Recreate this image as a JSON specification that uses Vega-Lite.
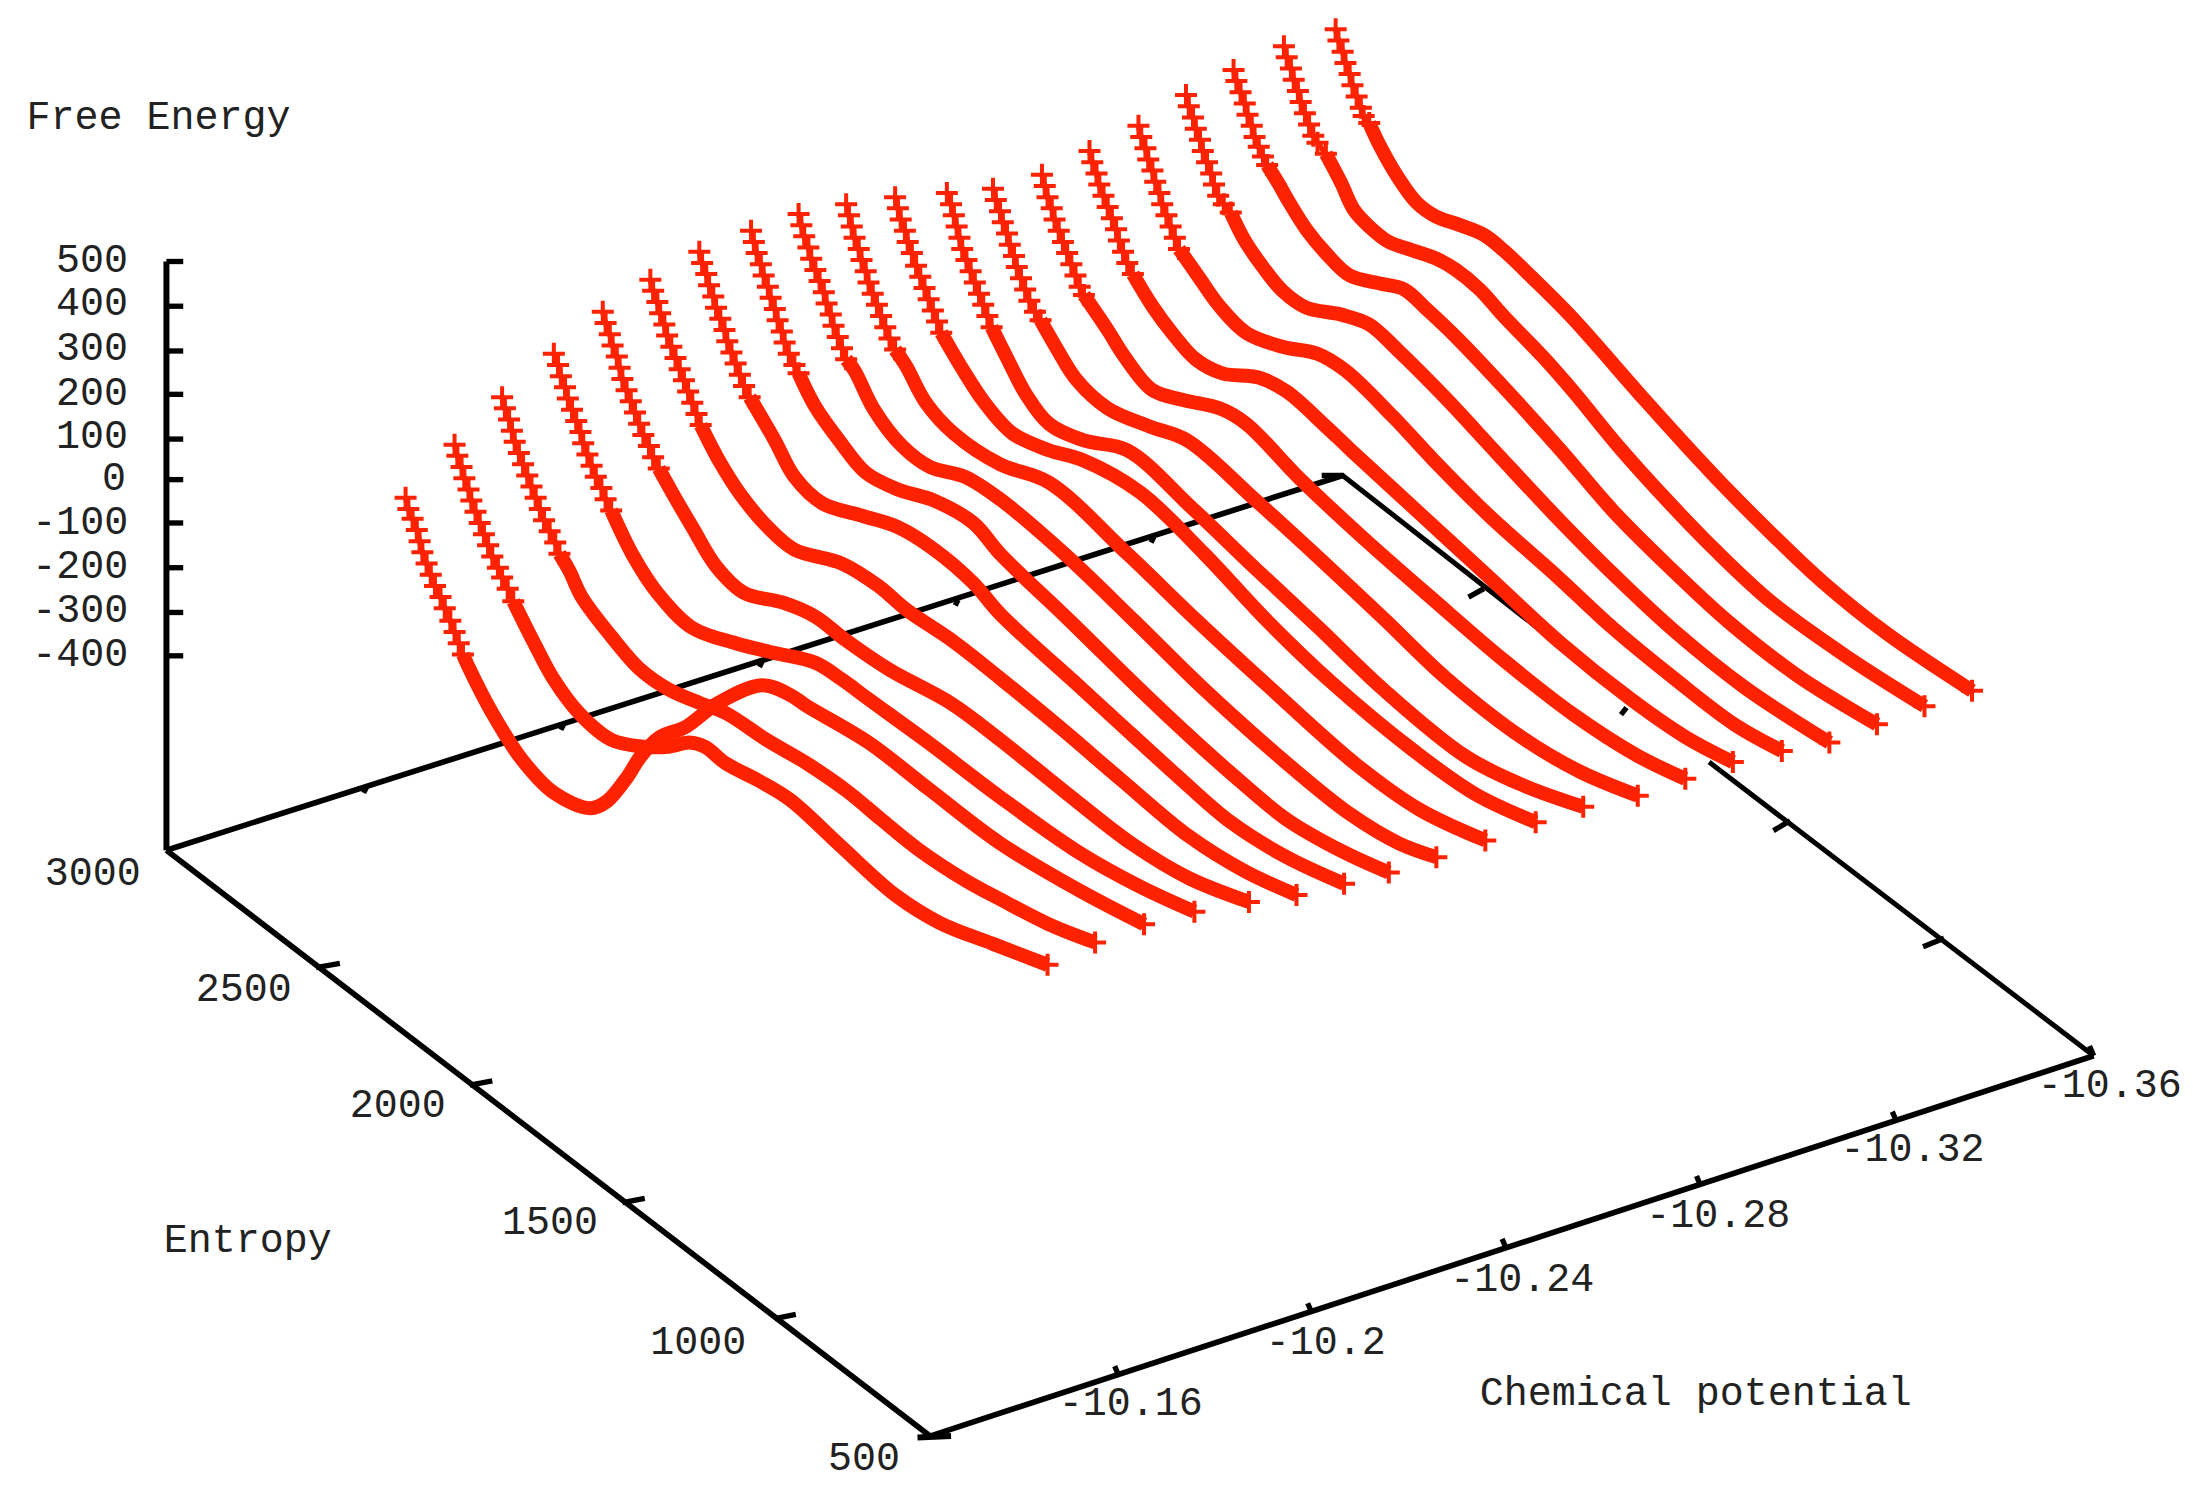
{
  "$schema": "https://vega.github.io/schema/vega-lite/v6.json",
  "width": 2193,
  "height": 1506,
  "autosize": {"type": "fit", "contains": "padding"},
  "padding": 0,
  "background": "white",
  "config": {"view": {"stroke": null}},
  "datasets": {
    "frame": [
      {"s":"z","w":"heavy","x":119,"y":187},{"s":"z","w":"heavy","x":119,"y":608},
      {"s":"z1","w":"tick","x":119,"y":187},{"s":"z1","w":"tick","x":131,"y":187},
      {"s":"z2","w":"tick","x":119,"y":219},{"s":"z2","w":"tick","x":131,"y":219},
      {"s":"z3","w":"tick","x":119,"y":251},{"s":"z3","w":"tick","x":131,"y":251},
      {"s":"z4","w":"tick","x":119,"y":282},{"s":"z4","w":"tick","x":131,"y":282},
      {"s":"z5","w":"tick","x":119,"y":314},{"s":"z5","w":"tick","x":131,"y":314},
      {"s":"z6","w":"tick","x":119,"y":343},{"s":"z6","w":"tick","x":131,"y":343},
      {"s":"z7","w":"tick","x":119,"y":374},{"s":"z7","w":"tick","x":131,"y":374},
      {"s":"z8","w":"tick","x":119,"y":406},{"s":"z8","w":"tick","x":131,"y":406},
      {"s":"z9","w":"tick","x":119,"y":438},{"s":"z9","w":"tick","x":131,"y":438},
      {"s":"z10","w":"tick","x":119,"y":469},{"s":"z10","w":"tick","x":131,"y":469},
      {"s":"back","w":"base","x":119,"y":608},{"s":"back","w":"base","x":960,"y":340},
      {"s":"left","w":"base","x":119,"y":608},{"s":"left","w":"base","x":665,"y":1027},
      {"s":"front","w":"base","x":665,"y":1027},{"s":"front","w":"base","x":1497,"y":755},
      {"s":"right1","w":"thin","x":960,"y":340},{"s":"right1","w":"thin","x":1103,"y":452},
      {"s":"right2","w":"thin","x":1222,"y":545},{"s":"right2","w":"thin","x":1497,"y":755},
      {"s":"b0","w":"tick","x":945,"y":340},{"s":"b0","w":"tick","x":961,"y":340},
      {"s":"b1","w":"tick","x":262,"y":563},{"s":"b1","w":"tick","x":260,"y":567},
      {"s":"b2","w":"tick","x":403,"y":518},{"s":"b2","w":"tick","x":401,"y":522},
      {"s":"b3","w":"tick","x":545,"y":473},{"s":"b3","w":"tick","x":543,"y":477},
      {"s":"b4","w":"tick","x":685,"y":429},{"s":"b4","w":"tick","x":683,"y":433},
      {"s":"b5","w":"tick","x":825,"y":384},{"s":"b5","w":"tick","x":823,"y":388},
      {"s":"l1","w":"tick","x":226,"y":692},{"s":"l1","w":"tick","x":243,"y":689},
      {"s":"l2","w":"tick","x":336,"y":776},{"s":"l2","w":"tick","x":352,"y":773},
      {"s":"l3","w":"tick","x":445,"y":860},{"s":"l3","w":"tick","x":461,"y":857},
      {"s":"l4","w":"tick","x":554,"y":943},{"s":"l4","w":"tick","x":569,"y":940},
      {"s":"f0","w":"heavy","x":656,"y":1028},{"s":"f0","w":"heavy","x":680,"y":1027},
      {"s":"f1","w":"tick","x":800,"y":984},{"s":"f1","w":"tick","x":797,"y":977},
      {"s":"f2","w":"tick","x":938,"y":939},{"s":"f2","w":"tick","x":935,"y":932},
      {"s":"f3","w":"tick","x":1077,"y":893},{"s":"f3","w":"tick","x":1074,"y":886},
      {"s":"f4","w":"tick","x":1216,"y":848},{"s":"f4","w":"tick","x":1213,"y":841},
      {"s":"f5","w":"tick","x":1356,"y":802},{"s":"f5","w":"tick","x":1353,"y":795},
      {"s":"f6","w":"tick","x":1497,"y":755},{"s":"f6","w":"tick","x":1494,"y":748},
      {"s":"r1","w":"tick","x":1061,"y":421},{"s":"r1","w":"tick","x":1050,"y":427},
      {"s":"r2","w":"tick","x":1163,"y":506},{"s":"r2","w":"tick","x":1159,"y":511},
      {"s":"r3","w":"tick","x":1280,"y":587},{"s":"r3","w":"tick","x":1268,"y":594},
      {"s":"r4","w":"tick","x":1390,"y":671},{"s":"r4","w":"tick","x":1375,"y":677}
    ],
    "labels": [
      {"t":"Free Energy","x":19,"y":84},
      {"t":"500","x":40,"y":186},{"t":"400","x":40,"y":217},{"t":"300","x":40,"y":249},
      {"t":"200","x":40,"y":281},{"t":"100","x":40,"y":312},{"t":"0","x":73,"y":342},
      {"t":"-100","x":23,"y":373},{"t":"-200","x":23,"y":405},{"t":"-300","x":23,"y":436},{"t":"-400","x":23,"y":468},
      {"t":"3000","x":32,"y":624},{"t":"2500","x":140,"y":707},{"t":"2000","x":250,"y":790},
      {"t":"1500","x":359,"y":874},{"t":"1000","x":465,"y":960},{"t":"500","x":592,"y":1043},
      {"t":"Entropy","x":117,"y":887},
      {"t":"-10.16","x":757,"y":1003},{"t":"-10.2","x":905,"y":960},{"t":"-10.24","x":1037,"y":915},
      {"t":"-10.28","x":1177,"y":869},{"t":"-10.32","x":1316,"y":822},{"t":"-10.36","x":1457,"y":776},
      {"t":"Chemical potential","x":1058,"y":996}
    ],
    "upper": [
      {"c":1,"x":290,"y":356},{"c":1,"x":292,"y":364},{"c":1,"x":295,"y":371},{"c":1,"x":298,"y":379},{"c":1,"x":300,"y":387},{"c":1,"x":302,"y":395},{"c":1,"x":305,"y":403},{"c":1,"x":308,"y":411},{"c":1,"x":311,"y":419},{"c":1,"x":315,"y":427},{"c":1,"x":318,"y":435},{"c":1,"x":322,"y":444},{"c":1,"x":325,"y":452},{"c":1,"x":328,"y":460},{"c":1,"x":331,"y":468},
      {"c":2,"x":325,"y":318},{"c":2,"x":327,"y":326},{"c":2,"x":330,"y":334},{"c":2,"x":332,"y":342},{"c":2,"x":335,"y":350},{"c":2,"x":337,"y":358},{"c":2,"x":340,"y":366},{"c":2,"x":343,"y":374},{"c":2,"x":346,"y":382},{"c":2,"x":349,"y":390},{"c":2,"x":352,"y":398},{"c":2,"x":356,"y":406},{"c":2,"x":359,"y":413},{"c":2,"x":363,"y":421},{"c":2,"x":367,"y":430},
      {"c":3,"x":359,"y":284},{"c":3,"x":361,"y":292},{"c":3,"x":364,"y":300},{"c":3,"x":366,"y":308},{"c":3,"x":368,"y":316},{"c":3,"x":371,"y":324},{"c":3,"x":374,"y":332},{"c":3,"x":377,"y":340},{"c":3,"x":380,"y":348},{"c":3,"x":383,"y":356},{"c":3,"x":386,"y":364},{"c":3,"x":389,"y":372},{"c":3,"x":393,"y":380},{"c":3,"x":397,"y":388},{"c":3,"x":400,"y":396},
      {"c":4,"x":396,"y":253},{"c":4,"x":399,"y":261},{"c":4,"x":401,"y":269},{"c":4,"x":404,"y":277},{"c":4,"x":406,"y":285},{"c":4,"x":409,"y":293},{"c":4,"x":412,"y":301},{"c":4,"x":415,"y":309},{"c":4,"x":417,"y":317},{"c":4,"x":420,"y":325},{"c":4,"x":423,"y":333},{"c":4,"x":426,"y":341},{"c":4,"x":430,"y":349},{"c":4,"x":433,"y":357},{"c":4,"x":437,"y":365},
      {"c":5,"x":431,"y":223},{"c":5,"x":433,"y":231},{"c":5,"x":436,"y":239},{"c":5,"x":438,"y":247},{"c":5,"x":441,"y":255},{"c":5,"x":443,"y":263},{"c":5,"x":445,"y":271},{"c":5,"x":448,"y":279},{"c":5,"x":451,"y":287},{"c":5,"x":454,"y":295},{"c":5,"x":457,"y":303},{"c":5,"x":460,"y":311},{"c":5,"x":464,"y":319},{"c":5,"x":467,"y":327},{"c":5,"x":471,"y":335},
      {"c":6,"x":465,"y":200},{"c":6,"x":467,"y":208},{"c":6,"x":470,"y":216},{"c":6,"x":472,"y":224},{"c":6,"x":475,"y":232},{"c":6,"x":477,"y":240},{"c":6,"x":480,"y":248},{"c":6,"x":483,"y":256},{"c":6,"x":486,"y":264},{"c":6,"x":489,"y":272},{"c":6,"x":492,"y":280},{"c":6,"x":495,"y":288},{"c":6,"x":498,"y":296},{"c":6,"x":501,"y":304},
      {"c":7,"x":500,"y":180},{"c":7,"x":502,"y":188},{"c":7,"x":505,"y":196},{"c":7,"x":507,"y":204},{"c":7,"x":510,"y":212},{"c":7,"x":512,"y":220},{"c":7,"x":515,"y":228},{"c":7,"x":518,"y":236},{"c":7,"x":520,"y":244},{"c":7,"x":523,"y":252},{"c":7,"x":526,"y":260},{"c":7,"x":529,"y":268},{"c":7,"x":532,"y":276},{"c":7,"x":536,"y":284},
      {"c":8,"x":537,"y":165},{"c":8,"x":539,"y":173},{"c":8,"x":541,"y":181},{"c":8,"x":544,"y":189},{"c":8,"x":546,"y":197},{"c":8,"x":549,"y":205},{"c":8,"x":551,"y":213},{"c":8,"x":554,"y":221},{"c":8,"x":556,"y":229},{"c":8,"x":559,"y":237},{"c":8,"x":561,"y":245},{"c":8,"x":564,"y":253},{"c":8,"x":568,"y":261},{"c":8,"x":571,"y":267},
      {"c":9,"x":571,"y":153},{"c":9,"x":573,"y":161},{"c":9,"x":575,"y":169},{"c":9,"x":578,"y":177},{"c":9,"x":580,"y":185},{"c":9,"x":583,"y":193},{"c":9,"x":586,"y":201},{"c":9,"x":589,"y":209},{"c":9,"x":591,"y":217},{"c":9,"x":594,"y":225},{"c":9,"x":596,"y":233},{"c":9,"x":599,"y":241},{"c":9,"x":602,"y":249},{"c":9,"x":605,"y":257},
      {"c":10,"x":605,"y":146},{"c":10,"x":607,"y":154},{"c":10,"x":609,"y":162},{"c":10,"x":611,"y":170},{"c":10,"x":614,"y":178},{"c":10,"x":616,"y":186},{"c":10,"x":619,"y":194},{"c":10,"x":621,"y":202},{"c":10,"x":624,"y":210},{"c":10,"x":627,"y":218},{"c":10,"x":630,"y":226},{"c":10,"x":633,"y":234},{"c":10,"x":636,"y":242},{"c":10,"x":640,"y":250},
      {"c":11,"x":640,"y":141},{"c":11,"x":642,"y":149},{"c":11,"x":644,"y":157},{"c":11,"x":647,"y":165},{"c":11,"x":649,"y":173},{"c":11,"x":652,"y":181},{"c":11,"x":655,"y":190},{"c":11,"x":658,"y":198},{"c":11,"x":661,"y":206},{"c":11,"x":664,"y":214},{"c":11,"x":667,"y":222},{"c":11,"x":670,"y":230},{"c":11,"x":673,"y":238},
      {"c":12,"x":677,"y":138},{"c":12,"x":680,"y":146},{"c":12,"x":682,"y":154},{"c":12,"x":684,"y":162},{"c":12,"x":686,"y":170},{"c":12,"x":688,"y":178},{"c":12,"x":691,"y":186},{"c":12,"x":694,"y":194},{"c":12,"x":697,"y":202},{"c":12,"x":700,"y":210},{"c":12,"x":703,"y":218},{"c":12,"x":706,"y":226},{"c":12,"x":709,"y":234},
      {"c":13,"x":710,"y":135},{"c":13,"x":712,"y":143},{"c":13,"x":715,"y":151},{"c":13,"x":717,"y":159},{"c":13,"x":720,"y":167},{"c":13,"x":722,"y":175},{"c":13,"x":725,"y":183},{"c":13,"x":727,"y":191},{"c":13,"x":730,"y":199},{"c":13,"x":733,"y":207},{"c":13,"x":736,"y":215},{"c":13,"x":740,"y":223},{"c":13,"x":744,"y":229},
      {"c":14,"x":745,"y":125},{"c":14,"x":747,"y":133},{"c":14,"x":749,"y":141},{"c":14,"x":752,"y":149},{"c":14,"x":754,"y":157},{"c":14,"x":757,"y":165},{"c":14,"x":760,"y":173},{"c":14,"x":763,"y":181},{"c":14,"x":766,"y":189},{"c":14,"x":769,"y":197},{"c":14,"x":772,"y":205},{"c":14,"x":775,"y":211},
      {"c":15,"x":779,"y":108},{"c":15,"x":781,"y":116},{"c":15,"x":784,"y":124},{"c":15,"x":786,"y":132},{"c":15,"x":789,"y":140},{"c":15,"x":792,"y":148},{"c":15,"x":795,"y":156},{"c":15,"x":798,"y":164},{"c":15,"x":800,"y":172},{"c":15,"x":803,"y":180},{"c":15,"x":806,"y":188},{"c":15,"x":810,"y":196},
      {"c":16,"x":814,"y":90},{"c":16,"x":816,"y":98},{"c":16,"x":819,"y":106},{"c":16,"x":821,"y":114},{"c":16,"x":824,"y":122},{"c":16,"x":826,"y":130},{"c":16,"x":829,"y":138},{"c":16,"x":831,"y":146},{"c":16,"x":834,"y":154},{"c":16,"x":837,"y":162},{"c":16,"x":840,"y":170},{"c":16,"x":843,"y":178},
      {"c":17,"x":848,"y":68},{"c":17,"x":850,"y":76},{"c":17,"x":853,"y":84},{"c":17,"x":855,"y":92},{"c":17,"x":858,"y":100},{"c":17,"x":860,"y":108},{"c":17,"x":863,"y":116},{"c":17,"x":866,"y":124},{"c":17,"x":868,"y":132},{"c":17,"x":871,"y":140},{"c":17,"x":875,"y":146},{"c":17,"x":880,"y":152},
      {"c":18,"x":882,"y":50},{"c":18,"x":884,"y":58},{"c":18,"x":887,"y":66},{"c":18,"x":890,"y":74},{"c":18,"x":892,"y":82},{"c":18,"x":895,"y":90},{"c":18,"x":897,"y":98},{"c":18,"x":900,"y":105},{"c":18,"x":903,"y":112},{"c":18,"x":906,"y":118},
      {"c":19,"x":918,"y":33},{"c":19,"x":920,"y":41},{"c":19,"x":923,"y":49},{"c":19,"x":925,"y":57},{"c":19,"x":928,"y":65},{"c":19,"x":930,"y":73},{"c":19,"x":933,"y":81},{"c":19,"x":936,"y":89},{"c":19,"x":939,"y":97},{"c":19,"x":942,"y":102},{"c":19,"x":948,"y":110},
      {"c":20,"x":955,"y":21},{"c":20,"x":957,"y":29},{"c":20,"x":960,"y":37},{"c":20,"x":962,"y":45},{"c":20,"x":965,"y":53},{"c":20,"x":967,"y":61},{"c":20,"x":970,"y":69},{"c":20,"x":973,"y":77},{"c":20,"x":975,"y":83},{"c":20,"x":979,"y":88}
    ],
    "lower": [
      {"c":1,"x":331,"y":468},{"c":1,"x":335,"y":477},{"c":1,"x":352,"y":510},{"c":1,"x":373,"y":543},{"c":1,"x":396,"y":567},{"c":1,"x":422,"y":578},{"c":1,"x":434,"y":573},{"c":1,"x":449,"y":555},{"c":1,"x":458,"y":541},{"c":1,"x":472,"y":527},{"c":1,"x":490,"y":520},{"c":1,"x":513,"y":503},{"c":1,"x":545,"y":490},{"c":1,"x":565,"y":497},{"c":1,"x":577,"y":505},{"c":1,"x":621,"y":531},{"c":1,"x":665,"y":565},{"c":1,"x":715,"y":603},{"c":1,"x":772,"y":637},{"c":1,"x":818,"y":661},
      {"c":2,"x":367,"y":430},{"c":2,"x":382,"y":460},{"c":2,"x":396,"y":486},{"c":2,"x":414,"y":510},{"c":2,"x":437,"y":529},{"c":2,"x":460,"y":534},{"c":2,"x":478,"y":534},{"c":2,"x":493,"y":531},{"c":2,"x":504,"y":534},{"c":2,"x":519,"y":546},{"c":2,"x":542,"y":558},{"c":2,"x":565,"y":572},{"c":2,"x":600,"y":604},{"c":2,"x":640,"y":640},{"c":2,"x":672,"y":660},{"c":2,"x":710,"y":675},{"c":2,"x":749,"y":690},
      {"c":3,"x":400,"y":396},{"c":3,"x":407,"y":408},{"c":3,"x":416,"y":427},{"c":3,"x":437,"y":455},{"c":3,"x":458,"y":479},{"c":3,"x":478,"y":493},{"c":3,"x":501,"y":503},{"c":3,"x":519,"y":510},{"c":3,"x":548,"y":529},{"c":3,"x":577,"y":546},{"c":3,"x":606,"y":566},{"c":3,"x":630,"y":586},{"c":3,"x":656,"y":607},{"c":3,"x":691,"y":630},{"c":3,"x":715,"y":643},{"c":3,"x":750,"y":661},{"c":3,"x":783,"y":674},
      {"c":4,"x":437,"y":365},{"c":4,"x":453,"y":398},{"c":4,"x":470,"y":424},{"c":4,"x":495,"y":449},{"c":4,"x":526,"y":460},{"c":4,"x":554,"y":467},{"c":4,"x":583,"y":474},{"c":4,"x":602,"y":486},{"c":4,"x":621,"y":500},{"c":4,"x":665,"y":532},{"c":4,"x":715,"y":570},{"c":4,"x":772,"y":610},{"c":4,"x":815,"y":634},{"c":4,"x":854,"y":652},
      {"c":5,"x":471,"y":335},{"c":5,"x":481,"y":353},{"c":5,"x":495,"y":377},{"c":5,"x":512,"y":405},{"c":5,"x":532,"y":424},{"c":5,"x":560,"y":431},{"c":5,"x":583,"y":441},{"c":5,"x":605,"y":458},{"c":5,"x":636,"y":479},{"c":5,"x":680,"y":503},{"c":5,"x":715,"y":529},{"c":5,"x":761,"y":566},{"c":5,"x":810,"y":604},{"c":5,"x":850,"y":628},{"c":5,"x":893,"y":645},
      {"c":6,"x":501,"y":304},{"c":6,"x":515,"y":331},{"c":6,"x":529,"y":353},{"c":6,"x":549,"y":377},{"c":6,"x":568,"y":393},{"c":6,"x":602,"y":403},{"c":6,"x":628,"y":419},{"c":6,"x":648,"y":436},{"c":6,"x":682,"y":459},{"c":6,"x":715,"y":485},{"c":6,"x":760,"y":522},{"c":6,"x":802,"y":558},{"c":6,"x":850,"y":598},{"c":6,"x":890,"y":623},{"c":6,"x":927,"y":640},
      {"c":7,"x":536,"y":284},{"c":7,"x":554,"y":315},{"c":7,"x":568,"y":341},{"c":7,"x":588,"y":360},{"c":7,"x":617,"y":369},{"c":7,"x":642,"y":377},{"c":7,"x":668,"y":393},{"c":7,"x":696,"y":417},{"c":7,"x":715,"y":439},{"c":7,"x":774,"y":493},{"c":7,"x":810,"y":526},{"c":7,"x":843,"y":556},{"c":7,"x":880,"y":588},{"c":7,"x":920,"y":613},{"c":7,"x":961,"y":632},
      {"c":8,"x":571,"y":267},{"c":8,"x":583,"y":291},{"c":8,"x":600,"y":315},{"c":8,"x":619,"y":338},{"c":8,"x":642,"y":350},{"c":8,"x":668,"y":358},{"c":8,"x":696,"y":374},{"c":8,"x":715,"y":396},{"c":8,"x":765,"y":444},{"c":8,"x":815,"y":493},{"c":8,"x":850,"y":526},{"c":8,"x":879,"y":552},{"c":8,"x":920,"y":586},{"c":8,"x":960,"y":609},{"c":8,"x":993,"y":624},
      {"c":9,"x":605,"y":257},{"c":9,"x":611,"y":265},{"c":9,"x":625,"y":293},{"c":9,"x":645,"y":319},{"c":9,"x":665,"y":334},{"c":9,"x":690,"y":341},{"c":9,"x":715,"y":357},{"c":9,"x":761,"y":396},{"c":9,"x":811,"y":444},{"c":9,"x":861,"y":493},{"c":9,"x":925,"y":550},{"c":9,"x":965,"y":582},{"c":9,"x":1000,"y":603},{"c":9,"x":1027,"y":613},
      {"c":10,"x":640,"y":250},{"c":10,"x":648,"y":262},{"c":10,"x":662,"y":288},{"c":10,"x":682,"y":310},{"c":10,"x":715,"y":332},{"c":10,"x":750,"y":345},{"c":10,"x":806,"y":396},{"c":10,"x":856,"y":444},{"c":10,"x":906,"y":490},{"c":10,"x":970,"y":547},{"c":10,"x":1015,"y":579},{"c":10,"x":1062,"y":601},
      {"c":11,"x":673,"y":238},{"c":11,"x":687,"y":262},{"c":11,"x":704,"y":288},{"c":11,"x":724,"y":310},{"c":11,"x":750,"y":322},{"c":11,"x":774,"y":329},{"c":11,"x":815,"y":352},{"c":11,"x":861,"y":396},{"c":11,"x":906,"y":444},{"c":11,"x":952,"y":488},{"c":11,"x":1011,"y":537},{"c":11,"x":1055,"y":568},{"c":11,"x":1098,"y":588},
      {"c":12,"x":709,"y":234},{"c":12,"x":722,"y":260},{"c":12,"x":733,"y":281},{"c":12,"x":750,"y":303},{"c":12,"x":775,"y":315},{"c":12,"x":806,"y":322},{"c":12,"x":852,"y":363},{"c":12,"x":897,"y":406},{"c":12,"x":943,"y":449},{"c":12,"x":989,"y":493},{"c":12,"x":1048,"y":541},{"c":12,"x":1090,"y":562},{"c":12,"x":1132,"y":577},
      {"c":13,"x":744,"y":229},{"c":13,"x":756,"y":250},{"c":13,"x":770,"y":272},{"c":13,"x":792,"y":292},{"c":13,"x":822,"y":305},{"c":13,"x":849,"y":315},{"c":13,"x":897,"y":357},{"c":13,"x":943,"y":399},{"c":13,"x":989,"y":442},{"c":13,"x":1034,"y":485},{"c":13,"x":1089,"y":528},{"c":13,"x":1130,"y":552},{"c":13,"x":1171,"y":569},
      {"c":14,"x":775,"y":211},{"c":14,"x":792,"y":236},{"c":14,"x":804,"y":255},{"c":14,"x":824,"y":279},{"c":14,"x":846,"y":286},{"c":14,"x":872,"y":292},{"c":14,"x":891,"y":303},{"c":14,"x":929,"y":342},{"c":14,"x":975,"y":385},{"c":14,"x":1025,"y":429},{"c":14,"x":1075,"y":472},{"c":14,"x":1125,"y":511},{"c":14,"x":1170,"y":540},{"c":14,"x":1205,"y":557},
      {"c":15,"x":810,"y":196},{"c":15,"x":824,"y":219},{"c":15,"x":838,"y":238},{"c":15,"x":855,"y":257},{"c":15,"x":874,"y":267},{"c":15,"x":900,"y":270},{"c":15,"x":920,"y":280},{"c":15,"x":948,"y":305},{"c":15,"x":966,"y":322},{"c":15,"x":1016,"y":368},{"c":15,"x":1066,"y":414},{"c":15,"x":1116,"y":460},{"c":15,"x":1166,"y":500},{"c":15,"x":1205,"y":527},{"c":15,"x":1239,"y":545},
      {"c":16,"x":843,"y":178},{"c":16,"x":857,"y":198},{"c":16,"x":872,"y":219},{"c":16,"x":891,"y":238},{"c":16,"x":917,"y":248},{"c":16,"x":942,"y":253},{"c":16,"x":962,"y":265},{"c":16,"x":996,"y":298},{"c":16,"x":1025,"y":329},{"c":16,"x":1066,"y":370},{"c":16,"x":1112,"y":411},{"c":16,"x":1153,"y":449},{"c":16,"x":1198,"y":486},{"c":16,"x":1240,"y":518},{"c":16,"x":1274,"y":537},
      {"c":17,"x":880,"y":152},{"c":17,"x":890,"y":172},{"c":17,"x":903,"y":191},{"c":17,"x":917,"y":208},{"c":17,"x":934,"y":220},{"c":17,"x":959,"y":225},{"c":17,"x":979,"y":232},{"c":17,"x":999,"y":250},{"c":17,"x":1033,"y":284},{"c":17,"x":1071,"y":325},{"c":17,"x":1116,"y":373},{"c":17,"x":1157,"y":414},{"c":17,"x":1198,"y":452},{"c":17,"x":1248,"y":492},{"c":17,"x":1308,"y":531},
      {"c":18,"x":906,"y":118},{"c":18,"x":914,"y":131},{"c":18,"x":922,"y":145},{"c":18,"x":934,"y":164},{"c":18,"x":948,"y":181},{"c":18,"x":965,"y":197},{"c":18,"x":988,"y":203},{"c":18,"x":1004,"y":207},{"c":18,"x":1021,"y":222},{"c":18,"x":1041,"y":241},{"c":18,"x":1078,"y":280},{"c":18,"x":1116,"y":322},{"c":18,"x":1153,"y":365},{"c":18,"x":1194,"y":406},{"c":18,"x":1235,"y":444},{"c":18,"x":1285,"y":483},{"c":18,"x":1342,"y":518},
      {"c":19,"x":948,"y":110},{"c":19,"x":959,"y":131},{"c":19,"x":968,"y":150},{"c":19,"x":979,"y":162},{"c":19,"x":993,"y":173},{"c":19,"x":1010,"y":179},{"c":19,"x":1027,"y":185},{"c":19,"x":1041,"y":193},{"c":19,"x":1058,"y":207},{"c":19,"x":1075,"y":226},{"c":19,"x":1103,"y":255},{"c":19,"x":1125,"y":280},{"c":19,"x":1157,"y":319},{"c":19,"x":1194,"y":360},{"c":19,"x":1226,"y":393},{"c":19,"x":1267,"y":431},{"c":19,"x":1321,"y":470},{"c":19,"x":1376,"y":505},
      {"c":20,"x":979,"y":88},{"c":20,"x":987,"y":105},{"c":20,"x":999,"y":126},{"c":20,"x":1013,"y":145},{"c":20,"x":1027,"y":155},{"c":20,"x":1044,"y":161},{"c":20,"x":1061,"y":168},{"c":20,"x":1075,"y":179},{"c":20,"x":1095,"y":198},{"c":20,"x":1123,"y":226},{"c":20,"x":1176,"y":286},{"c":20,"x":1205,"y":318},{"c":20,"x":1235,"y":350},{"c":20,"x":1267,"y":382},{"c":20,"x":1303,"y":416},{"c":20,"x":1349,"y":453},{"c":20,"x":1410,"y":494}
    ],
    "tails": [
      {"x":818,"y":661},{"x":749,"y":690},{"x":783,"y":674},{"x":854,"y":652},{"x":893,"y":645},{"x":927,"y":640},{"x":961,"y":632},{"x":993,"y":624},{"x":1027,"y":613},{"x":1062,"y":601},
      {"x":1098,"y":588},{"x":1132,"y":577},{"x":1171,"y":569},{"x":1205,"y":557},{"x":1239,"y":545},{"x":1274,"y":537},{"x":1308,"y":531},{"x":1342,"y":518},{"x":1376,"y":505},{"x":1410,"y":494}
    ]
  },
  "encoding": {
    "x": {"field": "x", "type": "quantitative", "axis": null, "scale": {"domain": [0, 1568], "nice": false, "zero": false}},
    "y": {"field": "y", "type": "quantitative", "axis": null, "scale": {"domain": [1077, 0], "nice": false, "zero": false}}
  },
  "layer": [
    {
      "data": {"name": "frame"},
      "mark": {"type": "line", "color": "black", "strokeCap": "butt"},
      "encoding": {
        "detail": {"field": "s"},
        "order": {"value": null},
        "strokeWidth": {"field": "w", "type": "nominal", "legend": null, "scale": {"domain": ["heavy", "base", "tick", "thin"], "range": [6, 5, 4.5, 3.5]}}
      }
    },
    {
      "data": {"name": "upper"},
      "mark": {"type": "line", "color": "#ff2200", "strokeWidth": 5.5, "interpolate": "catmull-rom"},
      "encoding": {"detail": {"field": "c"}, "order": {"value": null}}
    },
    {
      "data": {"name": "upper"},
      "mark": {"type": "point", "shape": "M-1,0L1,0M0,-1L0,1", "filled": false, "color": "#ff2200", "strokeWidth": 4, "size": 484, "opacity": 1}
    },
    {
      "data": {"name": "lower"},
      "mark": {"type": "line", "color": "#ff2200", "strokeWidth": 14, "interpolate": "catmull-rom"},
      "encoding": {"detail": {"field": "c"}, "order": {"value": null}}
    },
    {
      "data": {"name": "tails"},
      "mark": {"type": "point", "shape": "M-1,0L1,0M0,-1L0,1", "filled": false, "color": "#ff2200", "strokeWidth": 4, "size": 484, "opacity": 1}
    },
    {
      "data": {"name": "labels"},
      "mark": {"type": "text", "align": "left", "baseline": "middle", "font": "Liberation Mono", "fontSize": 40, "color": "#222222"},
      "encoding": {"text": {"field": "t"}}
    }
  ]
}
